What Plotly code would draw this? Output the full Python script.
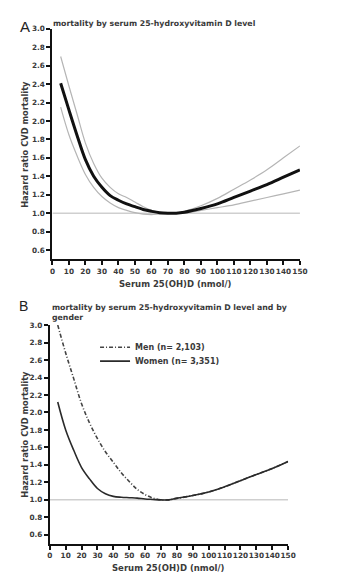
import plotly.graph_objects as go

# ---------------- data ----------------
vitd_a = [5, 10, 15, 20, 25, 30, 35, 40, 45, 50, 55, 60, 65, 70, 75, 80, 90, 100, 110, 120, 130, 140, 150]
hr_a = [2.41, 2.12, 1.84, 1.58, 1.40, 1.28, 1.19, 1.14, 1.10, 1.07, 1.04, 1.02, 1.005, 1.0, 1.0, 1.01, 1.05, 1.10, 1.17, 1.24, 1.31, 1.39, 1.47]
hr_a_upper = [2.70, 2.38, 2.07, 1.76, 1.54, 1.38, 1.28, 1.21, 1.17, 1.12, 1.07, 1.03, 1.01, 1.0, 1.0, 1.02, 1.08, 1.16, 1.26, 1.36, 1.47, 1.60, 1.73]
hr_a_lower = [2.15, 1.85, 1.62, 1.42, 1.28, 1.18, 1.11, 1.06, 1.03, 1.005, 0.99, 0.985, 0.99, 0.995, 1.0, 1.0, 1.03, 1.06, 1.09, 1.13, 1.17, 1.21, 1.25]

vitd_b = [5, 10, 15, 20, 25, 30, 35, 40, 45, 50, 55, 60, 65, 70, 75, 80, 90, 100, 110, 120, 130, 140, 150]
hr_men = [3.0, 2.68, 2.39, 2.10, 1.88, 1.70, 1.55, 1.43, 1.31, 1.21, 1.12, 1.06, 1.02, 1.0, 1.0, 1.015, 1.05, 1.09, 1.15, 1.22, 1.29, 1.36, 1.44]
hr_women = [2.12, 1.80, 1.57, 1.37, 1.24, 1.13, 1.07, 1.04, 1.03, 1.025, 1.02, 1.01, 1.005, 1.0, 1.0, 1.02, 1.05, 1.09, 1.15, 1.22, 1.29, 1.36, 1.44]

reference_hr = 1.0
x_ticks = list(range(0, 151, 10))
y_ticks = [0.6, 0.8, 1.0, 1.2, 1.4, 1.6, 1.8, 2.0, 2.2, 2.4, 2.6, 2.8, 3.0]
x_range = [0, 150]
y_range = [0.5, 3.0]

title_a = "mortality by serum 25-hydroxyvitamin D level"
title_b = "mortality by serum 25-hydroxyvitamin D level and by<br>gender"
x_title = "Serum 25(OH)D (nmol/)"
y_title = "Hazard ratio CVD mortality"
men_label = "Men (n= 2,103)"
women_label = "Women (n= 3,351)"

# ---------------- figure ----------------
W, H = 353, 581
FONT = "DejaVu Sans, Verdana, sans-serif"
TXT = "#3a3a3a"

fig = go.Figure()

# Panel A
fig.add_trace(go.Scatter(x=vitd_a, y=hr_a_upper, mode="lines", line=dict(color="#b5b5b5", width=1.2, shape="spline"),
                         showlegend=False, xaxis="x", yaxis="y"))
fig.add_trace(go.Scatter(x=vitd_a, y=hr_a_lower, mode="lines", line=dict(color="#b5b5b5", width=1.2, shape="spline"),
                         showlegend=False, xaxis="x", yaxis="y"))
fig.add_trace(go.Scatter(x=vitd_a, y=hr_a, mode="lines", line=dict(color="#111111", width=3, shape="spline"),
                         showlegend=False, xaxis="x", yaxis="y"))

# Panel B
fig.add_trace(go.Scatter(x=vitd_b, y=hr_men, mode="lines", name=men_label, legend="legend",
                         line=dict(color="#444444", width=1.6, dash="4px,2px,1px,2px", shape="spline"),
                         xaxis="x2", yaxis="y2"))
fig.add_trace(go.Scatter(x=vitd_b, y=hr_women, mode="lines", name=women_label, legend="legend2",
                         line=dict(color="#2a2a2a", width=1.6, shape="spline"),
                         xaxis="x2", yaxis="y2"))

# reference lines at HR = 1
for xr, yr in (("x", "y"), ("x2", "y2")):
    fig.add_shape(type="line", xref=xr, yref=yr, x0=x_range[0], x1=x_range[1], y0=reference_hr, y1=reference_hr,
                  line=dict(color="#cfcfcf", width=1.5), layer="below")

def px_x(p):
    return p / W

def px_y(p):
    return 1 - p / H

axis_common = dict(showgrid=False, zeroline=False, showline=True, linecolor="#111111", linewidth=2,
                   ticks="outside", ticklen=4, tickwidth=1.5, tickcolor="#111111", tickangle=0,
                   tickfont=dict(family=FONT, size=7.3, color=TXT, weight="bold"))

legend_common = dict(xanchor="left", yanchor="top", bgcolor="rgba(0,0,0,0)",
                     font=dict(family=FONT, size=8, color=TXT, weight="bold"), itemwidth=30)

fig.update_layout(
    width=W, height=H,
    margin=dict(l=0, r=0, t=0, b=0),
    paper_bgcolor="white", plot_bgcolor="white",
    font=dict(family=FONT, color=TXT),
    xaxis=dict(domain=[px_x(51), px_x(306.5)], range=x_range, tickvals=x_ticks, anchor="y", **axis_common),
    yaxis=dict(domain=[px_y(257), px_y(25)], range=y_range, tickvals=y_ticks, tickformat=".1f", anchor="x", **axis_common),
    xaxis2=dict(domain=[px_x(48.3), px_x(294.3)], range=x_range, tickvals=x_ticks, anchor="y2", **axis_common),
    yaxis2=dict(domain=[px_y(543.3), px_y(323.3)], range=y_range, tickvals=y_ticks, tickformat=".1f", anchor="x2", **axis_common),
    legend=dict(x=px_x(95), y=px_y(331), **legend_common),
    legend2=dict(x=px_x(95), y=px_y(345), **legend_common),
    showlegend=True,
)

ann = []
ann.append(dict(text="A", x=px_x(23), y=px_y(23), xref="paper", yref="paper", showarrow=False,
                font=dict(family="Liberation Sans, Arial, sans-serif", size=15, color="#222"), xanchor="center", yanchor="middle"))
ann.append(dict(text=title_a, x=px_x(50), y=px_y(20), xref="paper", yref="paper", showarrow=False,
                font=dict(family=FONT, size=7.8, color=TXT, weight="bold"), xanchor="left", yanchor="middle"))
ann.append(dict(text="B", x=px_x(21.5), y=px_y(304), xref="paper", yref="paper", showarrow=False,
                font=dict(family="Liberation Sans, Arial, sans-serif", size=14, color="#222"), xanchor="center", yanchor="middle"))
ann.append(dict(text=title_b, x=px_x(48), y=px_y(299), xref="paper", yref="paper", showarrow=False, align="left",
                font=dict(family=FONT, size=7.8, color=TXT, weight="bold"), xanchor="left", yanchor="top"))
for cy in (141, 433):
    ann.append(dict(text=y_title, x=px_x(22.5), y=px_y(cy), xref="paper", yref="paper", showarrow=False, textangle=-90,
                    font=dict(family=FONT, size=8.3, color=TXT, weight="bold"), xanchor="center", yanchor="middle"))
for cx, cy in ((178.5, 282), (171.3, 568)):
    ann.append(dict(text=x_title, x=px_x(cx), y=px_y(cy), xref="paper", yref="paper", showarrow=False,
                    font=dict(family=FONT, size=8.5, color=TXT, weight="bold"), xanchor="center", yanchor="middle"))
fig.update_layout(annotations=ann)

fig.write_html("out.html")
